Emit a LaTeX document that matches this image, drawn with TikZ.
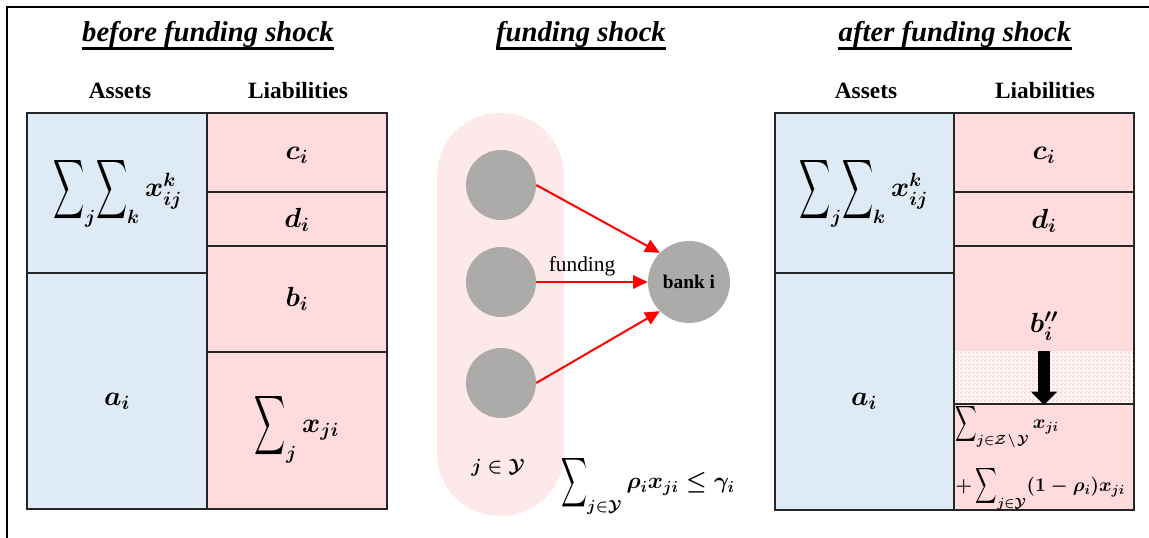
\documentclass[tikz,border=0pt]{standalone}
\usepackage{amsmath}
\usepackage{graphicx}
\usepackage{fontspec}
\setmainfont{Liberation Serif}
\usetikzlibrary{arrows.meta,patterns}
\definecolor{assetblue}{RGB}{222,234,246}
\definecolor{liabpink}{RGB}{255,219,219}
\definecolor{checkpink}{RGB}{255,205,205}
\definecolor{lightpink}{RGB}{253,233,233}
\definecolor{bankgrey}{RGB}{173,170,170}
\definecolor{fundred}{RGB}{255,0,0}
\newcommand{\tsum}[1][1.5]{\mathop{\vcenter{\hbox{\scalebox{0.78}[#1]{$\displaystyle\sum$}}}}\nolimits}
\pgfdeclarepatternformonly{pinkcheck}{\pgfqpoint{0pt}{0pt}}{\pgfqpoint{3pt}{3pt}}{\pgfqpoint{3pt}{3pt}}{%
  \pgfpathrectangle{\pgfqpoint{0pt}{0pt}}{\pgfqpoint{1.5pt}{1.5pt}}%
  \pgfpathrectangle{\pgfqpoint{1.5pt}{1.5pt}}{\pgfqpoint{1.5pt}{1.5pt}}%
  \pgfusepath{fill}}
\begin{document}
\begin{tikzpicture}[x=0.75pt,y=-0.75pt,
  titletext/.style={font=\fontsize{21.5}{25}\selectfont\bfseries\itshape, anchor=base, inner sep=0pt},
  uline/.style={line width=2.2pt},
  colhead/.style={font=\fontsize{17.5}{21}\selectfont\bfseries, anchor=base, inner sep=0pt},
  mlabel/.style={font=\fontsize{20}{24}\selectfont\boldmath, inner sep=0pt},
  smlabel/.style={font=\fontsize{14.5}{17}\selectfont\boldmath, inner sep=0pt},
  boxline/.style={draw=black!85, line width=1.5pt},
  bankdot/.style={circle, fill=bankgrey, inner sep=0pt, minimum size=52.5pt},
  fundarrow/.style={draw=fundred, line width=1.5pt, -{Triangle[length=11pt,width=10pt]}},
]
\useasboundingbox (0,0) rectangle (1149,538);
% frame lines
\coordinate (fb) at (7,538);
\coordinate (fc) at (7,7);
\coordinate (fr) at (1149,7);
\draw[line width=1.6pt] (fb) -- (fc) -- (fr);

% titles
\node[titletext] (tbefore) at (208,42) {before funding shock};
\node[titletext] (tshock) at (581,42) {funding shock};
\node[titletext] (tafter) at (955,42) {after funding shock};
\draw[uline] ([yshift=-5pt]tbefore.base west) -- ([yshift=-5pt]tbefore.base east);
\draw[uline] ([yshift=-5pt]tshock.base west) -- ([yshift=-5pt]tshock.base east);
\draw[uline] ([yshift=-5pt]tafter.base west) -- ([yshift=-5pt]tafter.base east);

% headers
\node[colhead] (hA1) at (120,99) {Assets};
\node[colhead] (hL1) at (298,99) {Liabilities};
\node[colhead] (hA2) at (866,99) {Assets};
\node[colhead] (hL2) at (1045,99) {Liabilities};

% ---- left balance sheet ----
\fill[assetblue] (27,113) rectangle (207,509);
\fill[liabpink] (207,113) rectangle (387,509);
\draw[boxline] (27,113) rectangle (387,509);
\draw[boxline] (207,113) -- (207,509);
\draw[boxline] (27,273) -- (207,273);
\draw[boxline] (207,192) -- (387,192);
\draw[boxline] (207,246) -- (387,246);
\draw[boxline] (207,352) -- (387,352);
\node[mlabel] (xk1) at (118,192) {$\tsum_j\!\tsum_k x_{ij}^{k}$};
\node[mlabel] (a1) at (117,401) {$a_i$};
\node[mlabel] (c1) at (297,155) {$c_i$};
\node[mlabel] (d1) at (297,220) {$d_i$};
\node[mlabel] (b1) at (297,299) {$b_i$};
\node[mlabel] (s1) at (297,428) {$\tsum_j x_{ji}$};

% ---- middle ----
\fill[lightpink, rounded corners=47pt] (437,113) rectangle (564,516);
\node[bankdot] (j1) at (501,185) {};
\node[bankdot] (j2) at (501,282) {};
\node[bankdot] (j3) at (501,383) {};
\node[bankdot, minimum size=61.5pt, font=\fontsize{14.5}{16}\selectfont\bfseries] (bank) at (689,282) {bank i};
\draw[fundarrow] (j1.east) -- (bank.135);
\draw[fundarrow] (j2.east) -- (bank.west);
\draw[fundarrow] (j3.east) -- (bank.225);
\node[font=\fontsize{16}{19}\selectfont, anchor=base, inner sep=0pt] (fundlbl) at (582,272) {funding};
\node[smlabel] (jset) at (498,468) {$j\in\mathcal{Y}$};
\node[font=\fontsize{16.5}{20}\selectfont\boldmath, inner sep=0pt] (cons) at (648,485) {$\tsum_{j\in\mathcal{Y}}\rho_i x_{ji}\le\gamma_i$};

% ---- right balance sheet ----
\fill[assetblue] (775,113) rectangle (954,510);
\fill[liabpink] (954,113) rectangle (1134,510);
\fill[white] (954,351) rectangle (1134,404);
\fill[pattern=pinkcheck, pattern color=checkpink] (954,351) rectangle (1134,404);
\draw[boxline] (775,113) rectangle (1134,510);
\draw[boxline] (954,113) -- (954,510);
\draw[boxline] (775,273) -- (954,273);
\draw[boxline] (954,192) -- (1134,192);
\draw[boxline] (954,246) -- (1134,246);
\draw[boxline] (954,404) -- (1134,404);
\coordinate (shkA) at (1044,351);
\coordinate (shkB) at (1044,405);
\draw[line width=9pt, -{Triangle[length=10pt,width=19pt]}] (shkA) -- (shkB);
\node[mlabel] (xk2) at (864,192) {$\tsum_j\!\tsum_k x_{ij}^{k}$};
\node[mlabel] (a2) at (864,401) {$a_i$};
\node[mlabel] (c2) at (1044,155) {$c_i$};
\node[mlabel] (d2) at (1044,221) {$d_i$};
\node[mlabel] (b2) at (1044,326) {$b_i''$};
\node[smlabel, anchor=west] (sA) at (955,426) {$\tsum[1.3]_{j\in\mathcal{Z}\mkern2mu\setminus\mkern2mu\mathcal{Y}} x_{ji}$};
\node[smlabel, anchor=west] (sB) at (955,488) {$+\tsum[1.3]_{j\in\mathcal{Y}}(1-\rho_i)x_{ji}$};
\end{tikzpicture}
\end{document}
